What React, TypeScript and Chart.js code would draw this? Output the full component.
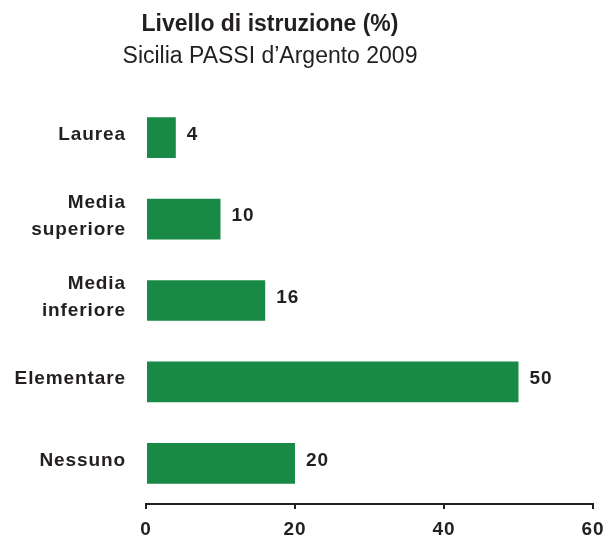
import React, { useEffect, useRef } from "react";
import { Chart, registerables } from "chart.js";

Chart.register(...registerables);

const TITLE = "Livello di istruzione (%)";
const SUBTITLE = "Sicilia PASSI d\u2019Argento 2009";
const categories: (string | string[])[] = [
  "Laurea",
  ["Media", "superiore"],
  ["Media", "inferiore"],
  "Elementare",
  "Nessuno",
];
const values = [4, 10, 16, 50, 20];
const xTicks = [0, 20, 40, 60];

const GREEN = "#188a45";
const DARK = "#231f20";
const FONT = "'Liberation Sans', Arial, Helvetica, sans-serif";
const SPACING = "0.9px";

const spacingPlugin = {
  id: "spacing",
  beforeDraw(chart: any) {
    (chart.ctx as any).letterSpacing = SPACING;
  },
};

const titlePlugin = {
  id: "customTitle",
  afterDraw(chart: any) {
    const ctx = chart.ctx;
    ctx.save();
    (ctx as any).letterSpacing = "0px";
    ctx.fillStyle = DARK;
    ctx.textAlign = "center";
    ctx.textBaseline = "alphabetic";
    ctx.font = `bold 23px ${FONT}`;
    ctx.fillText(TITLE, 270, 31);
    ctx.font = `23px ${FONT}`;
    ctx.fillText(SUBTITLE, 270, 63);
    ctx.restore();
  },
};

const valueLabels = {
  id: "valueLabels",
  afterDatasetsDraw(chart: any) {
    const ctx = chart.ctx;
    const meta = chart.getDatasetMeta(0);
    ctx.save();
    (ctx as any).letterSpacing = SPACING;
    ctx.fillStyle = DARK;
    ctx.font = `bold 19px ${FONT}`;
    ctx.textAlign = "left";
    ctx.textBaseline = "middle";
    meta.data.forEach((bar: any, i: number) => {
      ctx.fillText(String(values[i]), bar.x + 11, bar.y - 3);
    });
    ctx.restore();
  },
};

export default function App() {
  const ref = useRef<HTMLCanvasElement>(null);
  useEffect(() => {
    if (!ref.current) return;
    const chart = new Chart(ref.current, {
      type: "bar",
      data: {
        labels: categories,
        datasets: [
          {
            data: values,
            backgroundColor: GREEN,
            borderWidth: 0,
            categoryPercentage: 1,
            barPercentage: 0.5,
          },
        ],
      },
      options: {
        indexAxis: "y",
        animation: false,
        responsive: false,
        layout: { padding: { top: 97, right: 20, left: 0, bottom: 0 } },
        plugins: {
          legend: { display: false },
          tooltip: { enabled: false },
          title: { display: false },
        },
        scales: {
          x: {
            min: 0,
            max: 60,
            afterBuildTicks: (axis: any) => {
              axis.ticks = xTicks.map((v) => ({ value: v }));
            },
            afterFit: (axis: any) => {
              axis.height = 34;
            },
            grid: {
              drawOnChartArea: false,
              drawTicks: true,
              tickLength: 5,
              tickColor: DARK,
              lineWidth: 2,
            },
            border: { display: true, color: DARK, width: 2 },
            ticks: {
              color: DARK,
              font: { family: FONT, size: 19, weight: "bold" },
              padding: 9,
            },
          },
          y: {
            afterFit: (axis: any) => {
              axis.width = 146;
            },
            grid: { display: false, drawTicks: false },
            border: { display: false },
            ticks: {
              color: DARK,
              font: { family: FONT, size: 19, weight: "bold", lineHeight: 1.4 },
              padding: 20,
              labelOffset: -3,
            },
          },
        },
      },
      plugins: [spacingPlugin, titlePlugin, valueLabels],
    });
    return () => chart.destroy();
  }, []);
  return (
    <div style={{ position: "absolute", left: 0, top: 0, width: 613, height: 538, background: "#fff" }}>
      <canvas ref={ref} width={613} height={538} />
    </div>
  );
}
